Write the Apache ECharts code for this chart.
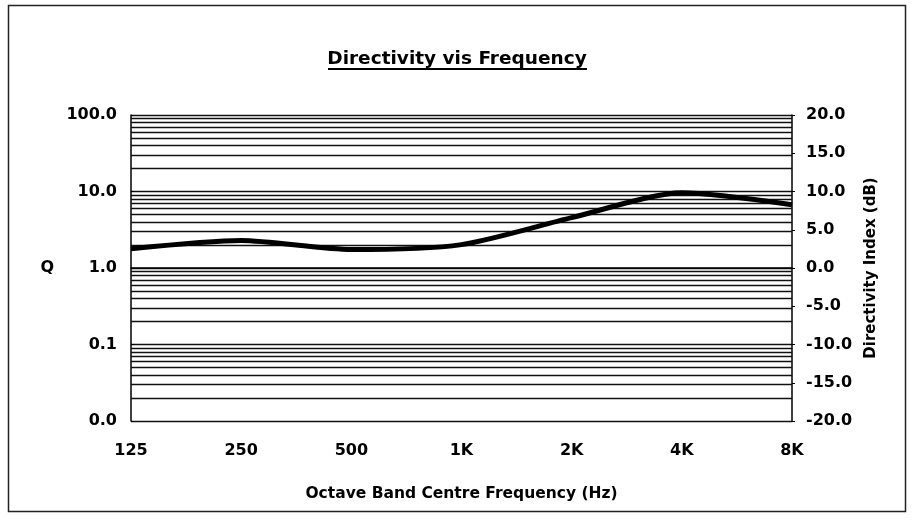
<!DOCTYPE html>
<html>
<head>
<meta charset="utf-8">
<script src="https://cdn.jsdelivr.net/npm/echarts@6/dist/echarts.min.js"></script>
<style>
html,body{margin:0;padding:0;background:#fff;}
#chart{width:914px;height:521px;}
</style>
</head>
<body>
<div id="chart"></div>
<script>
// ---- data ----
const categories = ['125', '250', '500', '1K', '2K', '4K', '8K'];
const qValues = [1.78, 2.28, 1.74, 2.02, 4.55, 9.6, 6.7];
const qAxisMin = 0.01;
const qAxisMax = 100;
const diAxisMin = -20;
const diAxisMax = 20;
const diInterval = 5;
const gridDecades = [0.01, 0.1, 1, 10];
const gridMultipliers = [2, 3, 4, 5, 6, 7, 8, 9];
const titleText = 'Directivity vis Frequency';
const xName = 'Octave Band Centre Frequency (Hz)';
const leftName = 'Q';
const rightName = 'Directivity Index (dB)';

// minor log gridlines (axis decoration)
const minorGrid = [];
gridDecades.forEach(d => gridMultipliers.forEach(m => minorGrid.push(+(d * m).toPrecision(3))));

const FONT = 'DejaVu Sans';
const chart = echarts.init(document.getElementById('chart'), null, {renderer: 'canvas'});
const option = {
  backgroundColor: '#fff',
  animation: false,
  grid: {left: 131, right: 122, top: 115, bottom: 100, containLabel: false},
  graphic: [
    {type: 'rect', shape: {x: 8.5, y: 5.5, width: 897, height: 506},
     style: {fill: 'none', stroke: '#222', lineWidth: 1.5}, silent: true, z: 0},
    {type: 'text', left: 'center', top: 50,
     style: {text: titleText, font: 'bold 18.5px "' + FONT + '"', fill: '#000'}},
    {type: 'rect', shape: {x: 328, y: 68, width: 259, height: 2},
     style: {fill: '#000'}, silent: true}
  ],
  xAxis: {
    type: 'category', data: categories, boundaryGap: false,
    name: xName, nameLocation: 'middle', nameGap: 65,
    nameTextStyle: {fontFamily: FONT, fontWeight: 'bold', fontSize: 15.5, color: '#000'},
    axisLine: {lineStyle: {color: '#000', width: 1.5}},
    axisTick: {show: false},
    axisLabel: {fontFamily: FONT, fontWeight: 'bold', fontSize: 16, color: '#000', margin: 22},
    splitLine: {show: false}
  },
  yAxis: [
    {
      type: 'log', logBase: 10, min: qAxisMin, max: qAxisMax,
      name: leftName, nameLocation: 'middle', nameRotate: 0, nameGap: 77,
      nameTextStyle: {fontFamily: FONT, fontWeight: 'bold', fontSize: 16, color: '#000'},
      axisLine: {show: true, lineStyle: {color: '#000', width: 1.5}},
      axisTick: {show: true, inside: true, length: 3, lineStyle: {color: '#000'}},
      axisLabel: {fontFamily: FONT, fontWeight: 'bold', fontSize: 16, color: '#000', margin: 14,
        formatter: v => Number(v).toFixed(1)},
      splitLine: {show: true, lineStyle: {color: '#111', width: 1.3}}
    },
    {
      type: 'value', min: diAxisMin, max: diAxisMax, interval: diInterval, position: 'right',
      name: rightName, nameLocation: 'middle', nameRotate: 90, nameGap: 72,
      nameTextStyle: {fontFamily: FONT, fontWeight: 'bold', fontSize: 15, color: '#000'},
      axisLine: {show: true, lineStyle: {color: '#000', width: 1.5}},
      axisTick: {show: true, length: 3, lineStyle: {color: '#000'}},
      axisLabel: {fontFamily: FONT, fontWeight: 'bold', fontSize: 16, color: '#000', margin: 14,
        formatter: v => Number(v).toFixed(1)},
      splitLine: {show: false}
    }
  ],
  series: [
    {
      type: 'line', yAxisIndex: 0, data: qValues, z: 1, silent: true,
      showSymbol: false, lineStyle: {opacity: 0},
      markLine: {
        silent: true, symbol: ['none', 'none'], label: {show: false},
        lineStyle: {type: 'solid', color: '#111', width: 1.3},
        data: minorGrid.map(v => ({yAxis: v}))
      }
    },
    {
      type: 'line', yAxisIndex: 0, data: qValues, z: 5,
      smooth: 0.25, showSymbol: false,
      lineStyle: {color: '#000', width: 5}
    }
  ]
};
chart.setOption(option);
</script>
</body>
</html>
